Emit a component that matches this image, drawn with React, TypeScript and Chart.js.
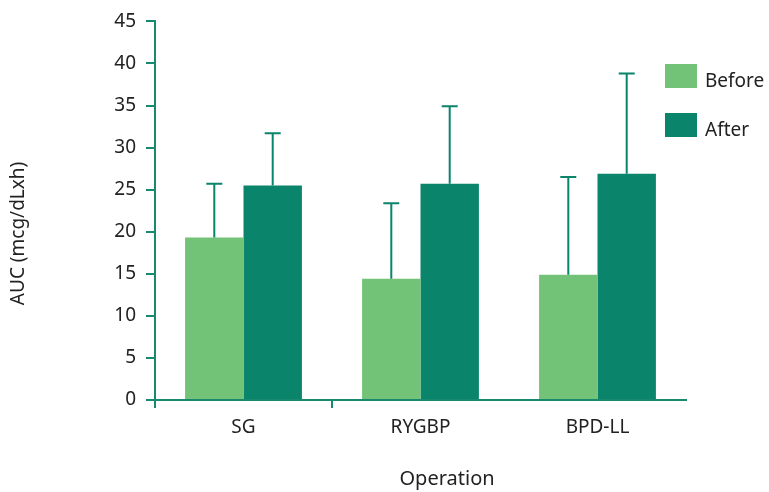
import React, { useEffect, useRef } from "react";
import { Chart, registerables } from "chart.js";

Chart.register(...registerables);

const categories = ["SG", "RYGBP", "BPD-LL"];
const beforeValues = [19.3, 14.4, 14.9];
const beforeErrors = [6.4, 9.0, 11.6];
const afterValues = [25.5, 25.7, 26.9];
const afterErrors = [6.2, 9.2, 11.9];
const seriesNames = ["Before", "After"];
const yTicks = [0, 5, 10, 15, 20, 25, 30, 35, 40, 45];

const LIGHT = "#72c277";
const DARK = "#0a846b";
const AXIS = "#17896f";
const TEXT = "#222222";
const FONT = "'Noto Sans', 'Open Sans', sans-serif";

const errorBarPlugin = {
  id: "errorBars",
  afterDatasetsDraw(chart: any) {
    const ctx = chart.ctx;
    const yScale = chart.scales.y;
    chart.data.datasets.forEach((ds: any, di: number) => {
      const meta = chart.getDatasetMeta(di);
      const errs = ds.errors as number[];
      meta.data.forEach((bar: any, i: number) => {
        const v = ds.data[i] as number;
        const top = yScale.getPixelForValue(v + errs[i]);
        const base = yScale.getPixelForValue(v);
        ctx.save();
        ctx.strokeStyle = DARK;
        ctx.lineWidth = 2;
        ctx.beginPath();
        ctx.moveTo(bar.x, base);
        ctx.lineTo(bar.x, top);
        ctx.moveTo(bar.x - 8, top);
        ctx.lineTo(bar.x + 8, top);
        ctx.stroke();
        ctx.restore();
      });
    });
  },
};

const textPlugin = {
  id: "extraText",
  afterDraw(chart: any) {
    const ctx = chart.ctx;
    const area = chart.chartArea;
    ctx.save();
    ctx.fillStyle = TEXT;
    ctx.font = `20px ${FONT}`;
    ctx.textAlign = "center";
    ctx.textBaseline = "middle";
    // x axis title
    ctx.fillText("Operation", area.left + (area.right - area.left) * 0.55, 479);
    // y axis title
    ctx.translate(19, area.top + (area.bottom - area.top) * 0.56);
    ctx.rotate(-Math.PI / 2);
    ctx.font = `19px ${FONT}`;
    ctx.fillText("AUC (mcg/dLxh)", 0, 0);
    ctx.restore();

    // legend
    const colors = [LIGHT, DARK];
    ctx.save();
    ctx.font = `19px ${FONT}`;
    ctx.textAlign = "left";
    ctx.textBaseline = "middle";
    seriesNames.forEach((name, i) => {
      const cy = 76 + i * 49;
      ctx.fillStyle = colors[i];
      ctx.fillRect(665, cy - 12, 32, 24);
      ctx.fillStyle = TEXT;
      ctx.fillText(name, 705, cy + 6);
    });
    ctx.restore();
  },
};

export default function App() {
  const ref = useRef<HTMLCanvasElement | null>(null);

  useEffect(() => {
    document.body.style.margin = "0";
    const canvas = ref.current;
    if (!canvas) return;
    const chart = new Chart(canvas, {
      type: "bar",
      data: {
        labels: categories,
        datasets: [
          {
            label: seriesNames[0],
            data: beforeValues,
            errors: beforeErrors,
            backgroundColor: LIGHT,
            categoryPercentage: 0.66,
            barPercentage: 1.0,
          } as any,
          {
            label: seriesNames[1],
            data: afterValues,
            errors: afterErrors,
            backgroundColor: DARK,
            categoryPercentage: 0.66,
            barPercentage: 1.0,
          } as any,
        ],
      },
      options: {
        animation: false,
        responsive: false,
        maintainAspectRatio: false,
        layout: { padding: { left: 0, right: 83, top: 21, bottom: 0 } },
        plugins: {
          legend: { display: false },
          tooltip: { enabled: false },
        },
        scales: {
          x: {
            offset: true,
            afterFit: (scale: any) => {
              scale.height = 92;
            },
            border: { color: AXIS, width: 2 },
            grid: {
              offset: true,
              drawOnChartArea: false,
              drawTicks: true,
              tickLength: 8,
              color: (c: any) => (c.index <= 1 ? AXIS : "rgba(0,0,0,0)"),
              lineWidth: 2,
            },
            ticks: {
              color: TEXT,
              font: { family: FONT, size: 19 },
              padding: 8,
            },
          },
          y: {
            min: 0,
            max: 45,
            afterFit: (scale: any) => {
              scale.width = 155;
            },
            afterBuildTicks: (scale: any) => {
              scale.ticks = yTicks.map((v) => ({ value: v }));
            },
            border: { color: AXIS, width: 2 },
            grid: {
              drawOnChartArea: false,
              drawTicks: true,
              tickLength: 9,
              color: AXIS,
              lineWidth: 2,
            },
            ticks: {
              color: TEXT,
              font: { family: FONT, size: 19 },
              padding: 10,
            },
          },
        },
      },
      plugins: [errorBarPlugin, textPlugin],
    });
    return () => chart.destroy();
  }, []);

  return (
    <div style={{ width: 769, height: 492, position: "relative", background: "#fff" }}>
      <canvas ref={ref} width={769} height={492} style={{ width: 769, height: 492 }} />
    </div>
  );
}
